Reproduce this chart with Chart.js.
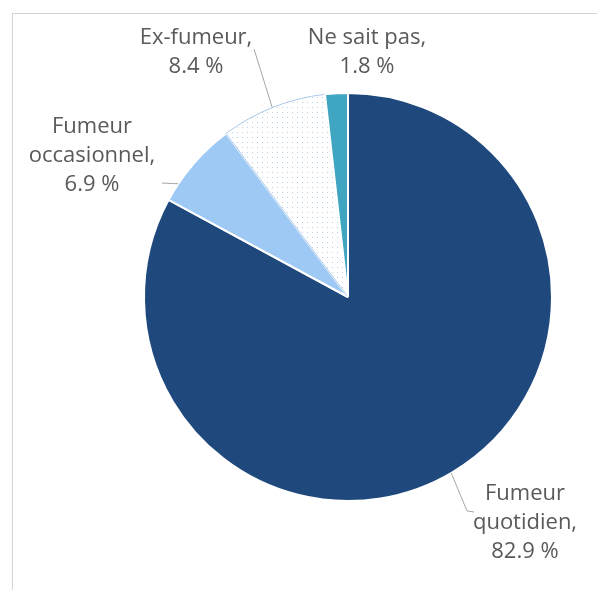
<!DOCTYPE html>
<html>
<head>
<meta charset="utf-8">
<script src="https://cdn.jsdelivr.net/npm/chart.js@4/dist/chart.umd.min.js"></script>
<style>
  html, body { margin: 0; padding: 0; background: #fff; }
  #wrap { position: relative; width: 597px; height: 590px; overflow: hidden; }
  #frame { position: absolute; left: 12px; top: 13px; width: 700px; height: 700px;
           border-top: 1px solid #d4d4d4; border-left: 1px solid #d4d4d4; }
  #chart { position: absolute; left: 0; top: 0; }
</style>
</head>
<body>
<div id="wrap">
  <div id="frame"></div>
  <canvas id="chart" width="597" height="590"></canvas>
</div>
<script>
// Données du graphique
const categories = ['Fumeur quotidien', 'Fumeur occasionnel', 'Ex-fumeur', 'Ne sait pas'];
const valeurs = [82.9, 6.9, 8.4, 1.8];

// Motif pointillé pour la tranche "Ex-fumeur"
function motifPoints() {
    const c = document.createElement('canvas');
    c.width = 5; c.height = 5;
    const g = c.getContext('2d');
    g.fillStyle = '#ffffff';
    g.fillRect(0, 0, 5, 5);
    g.fillStyle = '#b3cfea';
    g.fillRect(2, 2, 1, 1);
    return g.createPattern(c, 'repeat');
}

const ctx = document.getElementById('chart').getContext('2d');

// Position des étiquettes (centre de la première ligne) et des traits de rappel
const etiquettes = [
    { lignes: ['Fumeur', 'quotidien,'], x: 525, y: 494, trait: [[474, 512], [467, 511]], angle: 149.6 },
    { lignes: ['Fumeur', 'occasionnel,'], x: 92, y: 127, trait: [[162, 183]], angle: 303.7 },
    { lignes: ['Ex-fumeur,'], x: 196, y: 38, trait: [[254, 49]], angle: 338.2 },
    { lignes: ['Ne sait pas,'], x: 367, y: 38, trait: null, angle: 0 }
];

const pluginEtiquettes = {
    id: 'etiquettes',
    afterDraw(chart) {
        const c = chart.ctx;
        const arc = chart.getDatasetMeta(0).data[0];
        const cx = arc.x, cy = arc.y, r = arc.outerRadius;
        c.save();
        // traits de rappel
        c.strokeStyle = '#a6a6a6';
        c.lineWidth = 1;
        etiquettes.forEach(e => {
            if (!e.trait) return;
            const a = e.angle * Math.PI / 180;
            const ex = cx + r * Math.sin(a);
            const ey = cy - r * Math.cos(a);
            c.beginPath();
            c.moveTo(e.trait[0][0], e.trait[0][1]);
            for (let i = 1; i < e.trait.length; i++) c.lineTo(e.trait[i][0], e.trait[i][1]);
            c.lineTo(ex, ey);
            c.stroke();
        });
        // textes
        c.fillStyle = '#595959';
        c.font = '22px "Open Sans"';
        c.textAlign = 'center';
        c.textBaseline = 'middle';
        const hauteurLigne = 29;
        etiquettes.forEach((e, i) => {
            const lignes = e.lignes.concat([valeurs[i].toFixed(1) + ' %']);
            lignes.forEach((t, k) => c.fillText(t, e.x, e.y + k * hauteurLigne));
        });
        c.restore();
    }
};

new Chart(ctx, {
    type: 'pie',
    data: {
        labels: categories,
        datasets: [{
            data: valeurs,
            backgroundColor: ['#1f497d', '#9dc9f4', motifPoints(), '#3fa5c1'],
            borderColor: ['#ffffff', '#ffffff', '#a9c8e8', '#ffffff'],
            borderWidth: [2, 2, 1, 2]
        }]
    },
    options: {
        responsive: false,
        animation: false,
        layout: { padding: { left: 143, top: 92, right: 44, bottom: 88 } },
        plugins: {
            legend: { display: false },
            tooltip: { enabled: false }
        }
    },
    plugins: [pluginEtiquettes]
});
</script>
</body>
</html>
